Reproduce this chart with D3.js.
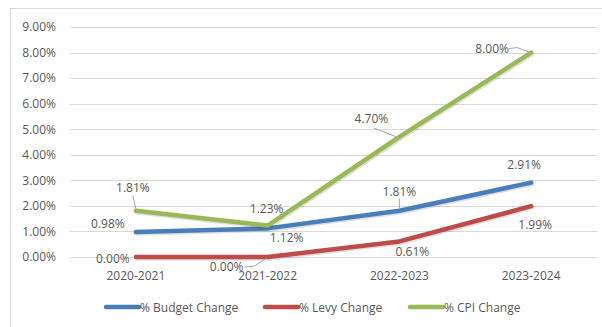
<!DOCTYPE html>
<html><head><meta charset="utf-8">
<script src="https://cdn.jsdelivr.net/npm/d3@7"></script>
<style>body{margin:0;background:#fff}svg{display:block}text{font-family:"Open Sans",sans-serif;fill:#595959}</style>
</head><body><svg id="c" width="602" height="327"></svg>
<script>
const categories = ["2020-2021","2021-2022","2022-2023","2023-2024"];
const budgetChange = [0.98, 1.12, 1.81, 2.91];
const levyChange = [0.00, 0.00, 0.61, 1.99];
const cpiChange = [1.81, 1.23, 4.70, 8.00];
const seriesNames = ["% Budget Change","% Levy Change","% CPI Change"];
const yTicks = [0,1,2,3,4,5,6,7,8,9];

const colors = ["#4A7EBB","#BE4B48","#98B954"];
// label offsets (styling): [dx, dy, leader]
const labelOffsets = [
  [[-28,-8,0],[19,9,0],[0,-19,1],[-7,-18,0]],
  [[-23,1,0],[-41,9,1],[13,10,0],[4,18,0]],
  [[-3,-23,1],[-1,-17,0],[-28,-18,1],[-39,-4,1]]
];
const series = [budgetChange, levyChange, cpiChange];

const svg = d3.select("#c");
svg.append("path").attr("d","M10.5,327 L10.5,8.5 L602,8.5").attr("fill","none").attr("stroke","#d9d9d9");

const x = d3.scaleBand().domain(categories).range([70,597]);
const y = d3.scaleLinear().domain([0,9]).range([257,27]);

svg.append("g").selectAll("line").data(yTicks).join("line")
  .attr("x1",70).attr("x2",597).attr("y1",d=>Math.round(y(d))+0.5).attr("y2",d=>Math.round(y(d))+0.5)
  .attr("stroke","#d9d9d9").attr("stroke-width",1);

const yAxis = d3.axisLeft(y).tickValues(yTicks).tickFormat(d=>d.toFixed(2)+"%").tickSize(0).tickPadding(14);
const ya = svg.append("g").attr("transform","translate(70,0)").call(yAxis);
ya.select(".domain").remove();
ya.selectAll("text").style("font-size","12px").attr("fill","#595959");

const xAxis = d3.axisBottom(x).tickSize(0).tickPadding(0);
const xa = svg.append("g").attr("transform","translate(0,271)").call(xAxis);
xa.select(".domain").remove();
xa.selectAll("text").style("font-size","12px").attr("fill","#595959");

const cx = c => x(c) + x.bandwidth()/2;
const line = d3.line().x((d,i)=>cx(categories[i])).y(d=>y(d));

series.forEach((s,k)=>{
  svg.append("path").datum(s).attr("d",line).attr("fill","none")
    .attr("stroke","rgba(0,0,0,0.12)").attr("stroke-width",4.5).attr("transform","translate(1,1.5)")
    .attr("stroke-linejoin","round").attr("stroke-linecap","round");
  svg.append("path").datum(s).attr("d",line).attr("fill","none")
    .attr("stroke",colors[k]).attr("stroke-width",4.5).attr("stroke-linejoin","round").attr("stroke-linecap","round");
});

series.forEach((s,k)=>{
  s.forEach((v,i)=>{
    const px = cx(categories[i]), py = y(v);
    const [dx,dy,lead] = labelOffsets[k][i];
    const tx = px+dx, ty = py+dy;
    if(lead){
      let d;
      if(k===2 && i===3) d = `M${tx+17},${ty} L${tx+25},${ty-1} L${px-1},${py}`;
      else if(k===1 && i===1) d = `M${tx+18},${ty+1} L${tx+28},${ty} L${px-1},${py+1}`;
      else if(k===2 && i===0) d = `M${tx},${ty+8} L${px},${py-2}`;
      else if(k===2 && i===2) d = `M${tx+2},${ty+9} L${px-3},${py}`;
      else d = `M${tx},${ty+7} L${px},${py-2}`;
      svg.append("path").attr("d",d).attr("fill","none").attr("stroke","#a6a6a6");
    }
    svg.append("text").attr("x",tx).attr("y",ty).attr("text-anchor","middle").attr("dominant-baseline","central")
      .style("font-size","12px").text(v.toFixed(2)+"%");
  });
});

const legX = [106, 265, 410];
seriesNames.forEach((n,k)=>{
  svg.append("line").attr("x1",legX[k]).attr("x2",legX[k]+33).attr("y1",307).attr("y2",307)
    .attr("stroke",colors[k]).attr("stroke-width",4.5).attr("stroke-linecap","round");
  svg.append("text").attr("x",legX[k]+34).attr("y",307).attr("dominant-baseline","central")
    .style("font-size","12px").text(n);
});
</script></body></html>
